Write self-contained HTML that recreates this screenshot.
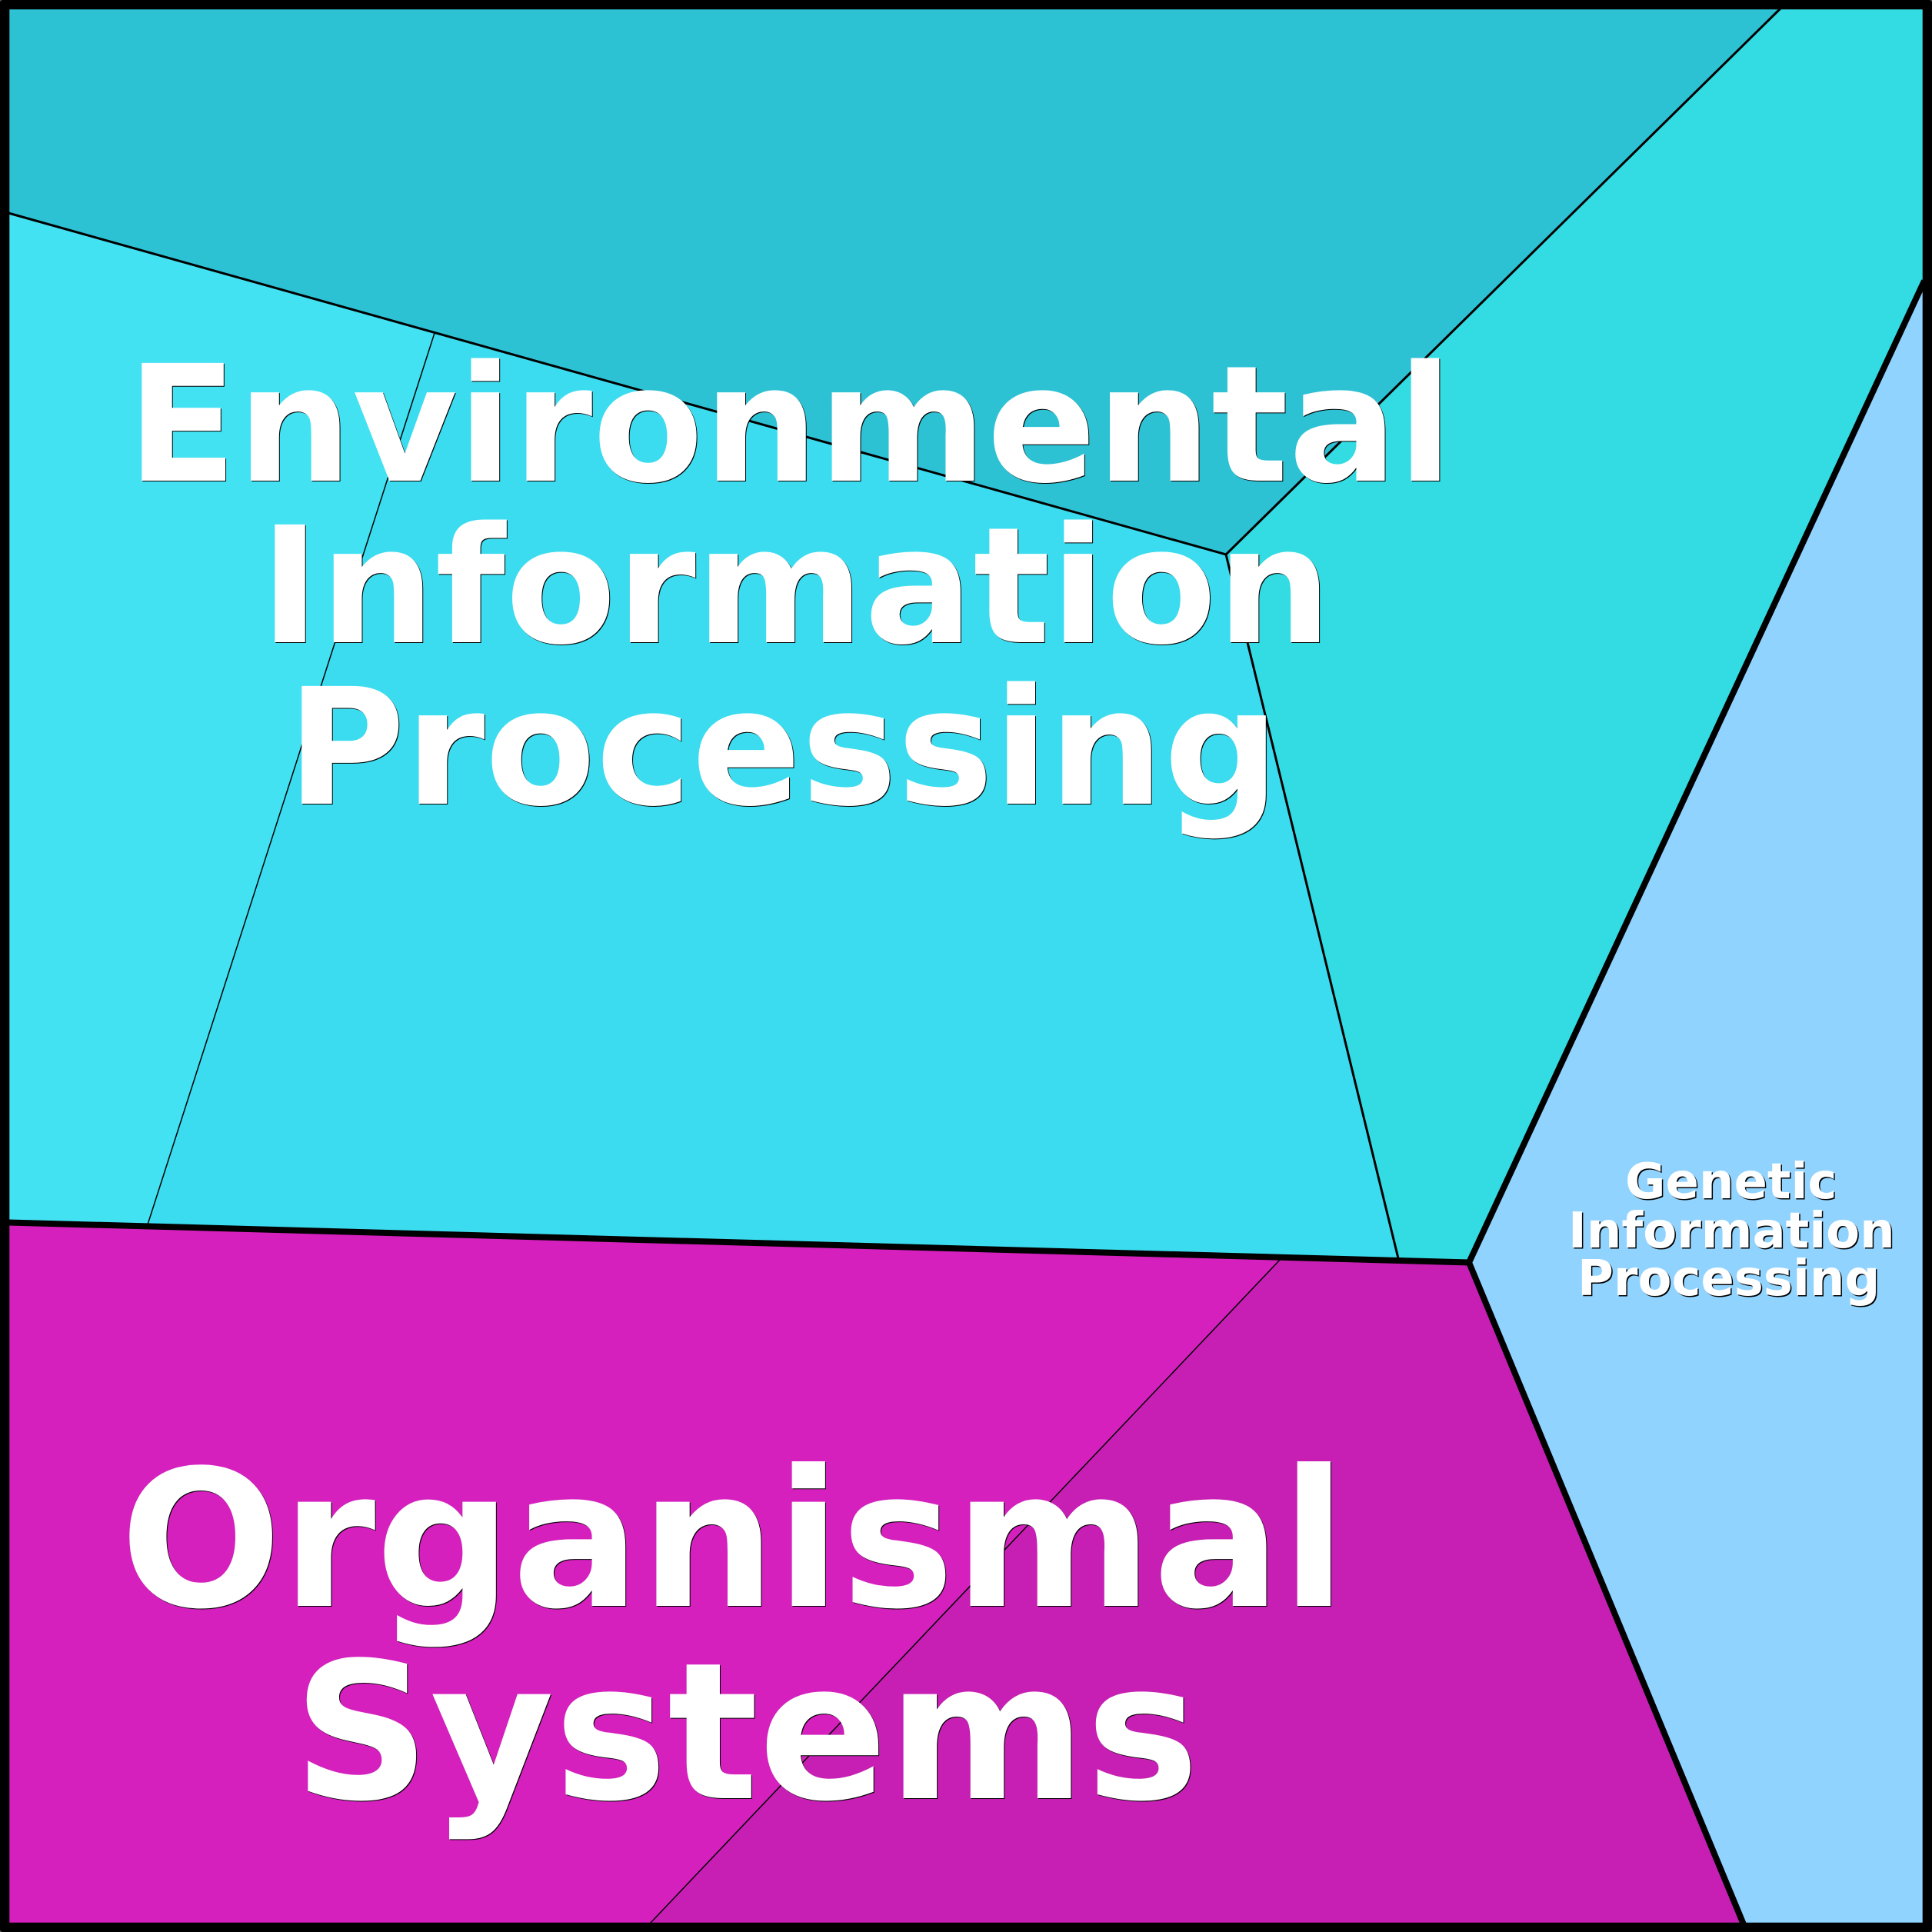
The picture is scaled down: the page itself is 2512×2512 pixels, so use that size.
<!DOCTYPE html>
<html><head><meta charset="utf-8"><style>
html,body{margin:0;padding:0;background:#555}
svg{display:block}
text{font-family:"DejaVu Sans",sans-serif;font-weight:bold}
</style></head><body>
<svg xmlns="http://www.w3.org/2000/svg" width="2512" height="2512" viewBox="0 0 2512 2512">
<rect width="2512" height="2512" fill="#555"/>
<polygon points="11,11 2315,11 1594,721 11,277" fill="#2CC2D4"/>
<polygon points="2315,11 2502,11 2502,365 1910,1641 1818,1636 1594,721" fill="#33DCE2"/>
<polygon points="11,277 565,433 192,1592 11,1589" fill="#42E2F3"/>
<polygon points="565,433 1594,721 1818,1636 192,1592" fill="#3BDCEF"/>
<polygon points="2502,365 2502,2502 2267,2502 1910,1641" fill="#91D3FF"/>
<polygon points="11,1589 1666,1636 844,2502 11,2502" fill="#D520BE"/>
<polygon points="1666,1636 1910,1641 2267,2502 844,2502" fill="#C71FB3"/>
<g fill="none" stroke="#000">
<path d="M11,277 L1594,721 L2315,11" stroke-width="3"/>
<path d="M1594,721 L1818,1636" stroke-width="3"/>
<path d="M565,433 L192,1592" stroke-width="1.5"/>
<path d="M1666,1636 L844,2502" stroke-width="1.5"/>
<path d="M11,1589.5 L1910,1641.5 L2502,365 M1910,1641.5 L2267,2502" stroke-width="8"/>
</g>
<path fill-rule="evenodd" fill="#000" d="M4,0 H2508 Q2512,0 2512,4 V2508 Q2512,2512 2508,2512 H4 Q0,2512 0,2508 V4 Q0,0 4,0 Z M12.3,12.3 V2499.7 H2499.7 V12.3 Z"/>
<g font-size="210" fill="#000" transform="translate(1,1)">
<text x="165" y="625">Environmental</text>
<text x="338" y="835">Information</text>
<text x="373" y="1045">Processing</text>
</g>
<g font-size="210" fill="#fff">
<text x="165" y="625">Environmental</text>
<text x="338" y="835">Information</text>
<text x="373" y="1045">Processing</text>
</g>
<g font-size="247.5" fill="#000" transform="translate(1,1)">
<text x="156" y="2088">Organismal</text>
<text x="381" y="2338">Systems</text>
</g>
<g font-size="247.5" fill="#fff">
<text x="156" y="2088">Organismal</text>
<text x="381" y="2338">Systems</text>
</g>
<g font-size="64" fill="#000" transform="translate(1.5,1.5)">
<text x="2113" y="1558">Genetic</text>
<text x="2039" y="1622">Information</text>
<text x="2051" y="1684">Processing</text>
</g>
<g font-size="64" fill="#fff">
<text x="2113" y="1558">Genetic</text>
<text x="2039" y="1622">Information</text>
<text x="2051" y="1684">Processing</text>
</g>
</svg>
</body></html>
